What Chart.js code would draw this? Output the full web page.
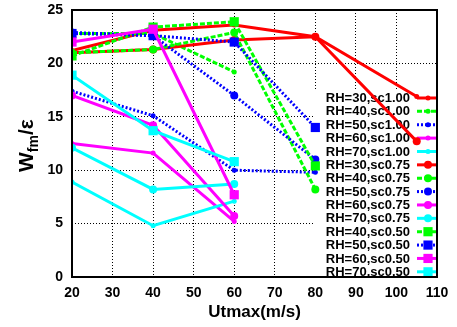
<!DOCTYPE html>
<html>
<head>
<meta charset="utf-8">
<script src="https://cdn.jsdelivr.net/npm/chart.js@4/dist/chart.umd.min.js"></script>
<style>
   html, body { margin: 0; padding: 0; background: #ffffff; }
   #chartCanvas { display: block; }
</style>
</head>
<body>
<canvas id="chartCanvas" width="457" height="327"></canvas>
<script>
/* global Chart */

// wind speeds (m/s) and one series per RH / sc combination
const speeds = [20, 40, 60, 80, 105];

const rh30sc100 = [21.2, 23.1, 23.6, 22.5, 16.9];
const rh40sc100 = [22.8, 22.8, 19.2];
const rh50sc100 = [17.4, 15.1, 10.0, 9.8];
const rh60sc100 = [12.5, 11.6, 5.2];
const rh70sc100 = [8.9, 4.8, 7.1];
const rh30sc075 = [21.0, 21.3, 22.2, 22.5, 12.7];
const rh40sc075 = [21.0, 21.3, 22.9, 8.2];
const rh50sc075 = [22.9, 22.6, 17.0, 11.0];
const rh60sc075 = [17.0, 14.2, 5.7];
const rh70sc075 = [12.1, 8.2, 8.7];
const rh40sc050 = [20.7, 23.4, 23.9, 10.4];
const rh50sc050 = [22.8, 22.6, 22.0, 14.0];
const rh60sc050 = [22.0, 23.2, 7.7];
const rh70sc050 = [18.9, 13.7, 10.8];

const seriesNames = [
   'RH=30,sc1.00', 'RH=40,sc1.00', 'RH=50,sc1.00', 'RH=60,sc1.00', 'RH=70,sc1.00',
   'RH=30,sc0.75', 'RH=40,sc0.75', 'RH=50,sc0.75', 'RH=60,sc0.75', 'RH=70,sc0.75',
   'RH=40,sc0.50', 'RH=50,sc0.50', 'RH=60,sc0.50', 'RH=70,sc0.50'
];
const seriesValues = [
   rh30sc100, rh40sc100, rh50sc100, rh60sc100, rh70sc100,
   rh30sc075, rh40sc075, rh50sc075, rh60sc075, rh70sc075,
   rh40sc050, rh50sc050, rh60sc050, rh70sc050
];

const xTicks = [20, 30, 40, 50, 60, 70, 80, 90, 100, 110];
const yTicks = [0, 5, 10, 15, 20, 25];

const COLORS = {
   'RH=30': '#ff0000',
   'RH=40': '#00ff00',
   'RH=50': '#0000ff',
   'RH=60': '#ff00ff',
   'RH=70': '#00ffff'
};
const DASHES = {
   'RH=40': [5, 2],
   'RH=50': [2, 2]
};
const MARKERS = {
   'sc1.00': { style: 'circle', radius: 2.5 },
   'sc0.75': { style: 'circle', radius: 4 },
   'sc0.50': { style: 'rect', radius: 6.5 }
};

const AREA = { left: 72, top: 10, right: 437, bottom: 277 };
const FONT = 'Liberation Sans, Arial, sans-serif';

var toPoints = function toPoints(values) {
   return values.map((v, i) => ({ x: speeds[i], y: v }));
};

var datasets = seriesNames.map(function (name, i) {
   var rh     = name.split(',')[0];
   var sc     = name.split(',')[1];
   var marker = MARKERS[sc];
   return {
      label: name,
      data: toPoints(seriesValues[i]),
      borderColor: COLORS[rh],
      backgroundColor: COLORS[rh],
      borderWidth: 3,
      borderDash: DASHES[rh] || [],
      pointStyle: marker.style,
      pointRadius: marker.radius,
      pointBorderWidth: 0,
      pointBackgroundColor: COLORS[rh],
      tension: 0,
      order: -i
   };
});

var drawMarker = function drawMarker(ctx, style, radius, x, y) {
   ctx.beginPath();
   if (style === 'rect') {
      var s = radius * Math.SQRT1_2;
      ctx.rect(x - s, y - s, 2 * s, 2 * s);
   } else {
      ctx.arc(x, y, radius, 0, Math.PI * 2);
   }
   ctx.fill();
};

// pin the plot area to the reference frame
var noScalePadding = function noScalePadding(scale) {
   scale.paddingTop = 0;
   scale.paddingBottom = 0;
   scale.paddingLeft = 0;
   scale.paddingRight = 0;
};

// white key box in the lower right of the plot, drawn over the grid
var keyPlugin = {
   id: 'keyBox',
   beforeDatasetsDraw: function (chart) {
      var ctx = chart.ctx;
      var area = chart.chartArea;
      ctx.save();
      ctx.fillStyle = '#ffffff';
      ctx.fillRect(314, 90, area.right - 314, area.bottom - 90);
      ctx.font = 'bold 13px ' + FONT;
      ctx.textAlign = 'right';
      ctx.textBaseline = 'middle';
      chart.data.datasets.forEach(function (ds, i) {
         var y = 98 + i * 13.37;
         ctx.fillStyle = '#000000';
         ctx.fillText(ds.label, 410, y + 0.5);
         ctx.strokeStyle = ds.borderColor;
         ctx.lineWidth = 3;
         ctx.setLineDash(ds.borderDash);
         ctx.beginPath();
         ctx.moveTo(417, y);
         ctx.lineTo(area.right, y);
         ctx.stroke();
         ctx.setLineDash([]);
         ctx.fillStyle = ds.borderColor;
         drawMarker(ctx, ds.pointStyle, ds.pointRadius, 428, y);
      });
      ctx.restore();
   },
   afterDatasetsDraw: function (chart) {
      var ctx = chart.ctx;
      var area = chart.chartArea;
      ctx.save();
      ctx.strokeStyle = '#000000';
      ctx.lineWidth = 2;
      ctx.strokeRect(area.left, area.top, area.right - area.left, area.bottom - area.top);
      ctx.restore();
   }
};

// y title with subscript: W_fm / epsilon
var yTitlePlugin = {
   id: 'yTitle',
   afterDraw: function (chart) {
      var ctx = chart.ctx;
      ctx.save();
      ctx.translate(33, 172);
      ctx.rotate(-Math.PI / 2);
      ctx.fillStyle = '#000000';
      ctx.textAlign = 'left';
      ctx.textBaseline = 'alphabetic';
      ctx.font = 'bold 21px ' + FONT;
      ctx.fillText('W', 0, 0);
      var x = ctx.measureText('W').width;
      ctx.font = 'bold 14px ' + FONT;
      ctx.fillText('fm', x, 5);
      x += ctx.measureText('fm').width;
      ctx.font = 'bold 21px ' + FONT;
      ctx.fillText('/ε', x, 0);
      ctx.restore();
   }
};

var chartConfig = {
   type: 'line',
   data: { datasets: datasets },
   options: {
      responsive: false,
      animation: false,
      layout: {
         padding: { left: 0, top: AREA.top, right: 457 - AREA.right, bottom: 0 }
      },
      scales: {
         x: {
            type: 'linear',
            min: xTicks[0],
            max: xTicks[xTicks.length - 1],
            afterFit: function (scale) {
               noScalePadding(scale);
               scale.height = 327 - AREA.bottom;
            },
            afterBuildTicks: function (scale) { scale.ticks = xTicks.map(v => ({ value: v })); },
            ticks: {
               color: '#000000',
               font: { family: FONT, size: 14, weight: 'bold' },
               padding: 8,
               maxRotation: 0,
               autoSkip: false
            },
            grid: { color: '#000000', lineWidth: 1, drawTicks: false },
            border: { display: false, dash: [1, 2] },
            title: {
               display: true,
               text: 'Utmax(m/s)',
               color: '#000000',
               font: { family: FONT, size: 17, weight: 'bold' },
               padding: { top: 0, bottom: 4 }
            }
         },
         y: {
            min: yTicks[0],
            max: yTicks[yTicks.length - 1],
            afterFit: function (scale) {
               noScalePadding(scale);
               scale.width = AREA.left;
            },
            afterBuildTicks: function (scale) { scale.ticks = yTicks.map(v => ({ value: v })); },
            ticks: {
               color: '#000000',
               font: { family: FONT, size: 14, weight: 'bold' },
               padding: 9
            },
            grid: { color: '#000000', lineWidth: 1, drawTicks: false },
            border: { display: false, dash: [1, 2] }
         }
      },
      plugins: {
         legend: { display: false },
         tooltip: { enabled: false }
      }
   },
   plugins: [keyPlugin, yTitlePlugin]
};

new Chart(document.getElementById('chartCanvas'), chartConfig);
</script>
</body>
</html>
